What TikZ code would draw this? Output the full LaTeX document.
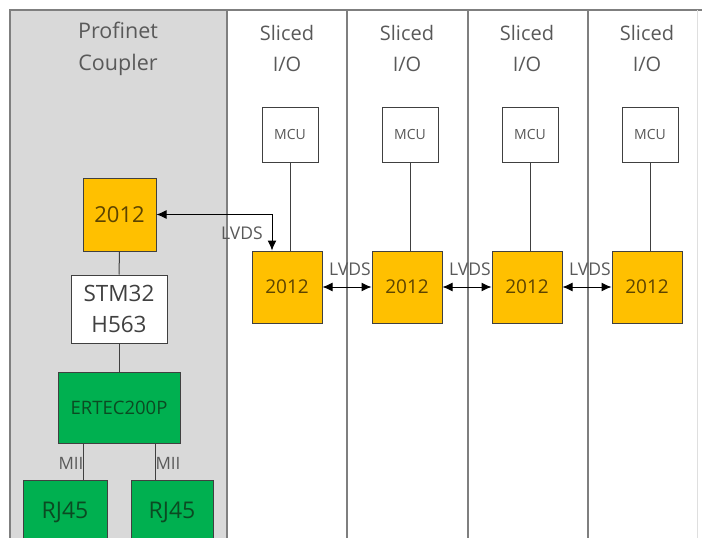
\documentclass[tikz,border=0pt]{standalone}
\usepackage{fontspec}
\setmainfont{Open Sans}
\usetikzlibrary{arrows.meta}
\definecolor{gold}{HTML}{FFC000}
\definecolor{goldtext}{HTML}{5C4300}
\definecolor{grn}{HTML}{00B050}
\definecolor{grntext}{HTML}{0B4A22}
\definecolor{panel}{HTML}{D9D9D9}
\definecolor{frame}{HTML}{7F7F7F}
\definecolor{linec}{HTML}{404040}
\definecolor{txt}{HTML}{595959}
\begin{document}
\begin{tikzpicture}[x=1pt,y=-1pt,
  framel/.style={draw=frame,line width=1.5pt},
  box/.style={draw=linec,line width=1pt,inner sep=0pt,align=center},
  chip/.style={box,fill=gold,text=goldtext,minimum width=70pt,minimum height=72pt,font=\fontsize{19}{22}\selectfont},
  mcubox/.style={box,fill=white,text=txt,minimum width=56pt,minimum height=55pt,font=\fontsize{14}{16}\selectfont},
  gbox/.style={box,fill=grn,text=grntext},
  title/.style={align=center,text=txt,font=\fontsize{20}{31}\selectfont,inner sep=0pt},
  lbl/.style={text=txt,inner sep=0pt,font=\fontsize{17.5}{19}\selectfont},
  conn/.style={draw=linec,line width=1pt},
  biarrow/.style={draw=black,line width=1pt,{Latex[length=10pt,width=9pt]}-{Latex[length=10pt,width=9pt]}}
]
\useasboundingbox (0,0) rectangle (702,538);
% panels
\fill[panel] (10,10) rectangle (227,538);
\draw[framel] (10,538) -- (10,10) -- (702,10);
\draw[framel] (227,10) -- (227,538);
\draw[framel] (347,10) -- (347,538);
\draw[framel] (468,10) -- (468,538);
\draw[framel] (588,10) -- (588,538);
\draw[draw=frame!25,line width=1pt] (697,10) -- (697,538);
% titles
\node[title,font=\fontsize{21.5}{32}\selectfont] (t0) at (118,49) {Profinet\\Coupler};
\node[title] (t1) at (287,48) {Sliced\\I/O};
\node[title] (t2) at (407,48) {Sliced\\I/O};
\node[title] (t3) at (527,48) {Sliced\\I/O};
\node[title] (t4) at (647,48) {Sliced\\I/O};
% coupler
\node[chip,minimum width=73pt,minimum height=73pt,font=\fontsize{22}{24}\selectfont] (c2012) at (119.5,214.5) {2012};
\node[box,fill=white,text=linec,minimum width=96pt,minimum height=68pt,font=\fontsize{22.5}{31}\selectfont] (stm) at (119,309) {STM32\\H563};
\node[gbox,minimum width=122pt,minimum height=71pt,font=\fontsize{18.5}{20}\selectfont] (ertec) at (119,407.5) {ERTEC200P};
\node[gbox,minimum width=84pt,minimum height=64pt,font=\fontsize{23}{25}\selectfont] (rj1) at (65,512) {RJ45};
\node[gbox,minimum width=82pt,minimum height=64pt,font=\fontsize{23}{25}\selectfont] (rj2) at (172,512) {RJ45};
\draw[conn] (c2012.south) -- (stm.north);
\draw[conn] (stm.south) -- (ertec.north);
\coordinate (e1) at ([xshift=-36pt]ertec.south);
\coordinate (e2) at ([xshift=36pt]ertec.south);
\draw[conn] (e1) -- (e1 |- rj1.north);
\draw[conn] (e2) -- (e2 |- rj2.north);
\node[lbl,font=\fontsize{17}{19}\selectfont] (mii1) at (71,463) {MII};
\node[lbl,font=\fontsize{17}{19}\selectfont] (mii2) at (168,463) {MII};
% slices
\foreach \i/\x in {1/287,2/407,3/527,4/647}{
  \node[mcubox] (m\i) at (\x+3,134.5) {MCU};
  \node[chip] (s\i) at (\x,287) {2012};
  \draw[conn] (m\i.south) -- (m\i.south |- s\i.north);
}
\draw[biarrow] (c2012.east) -| ([xshift=-15pt]s1.north);
\node[lbl] (l0) at (242,233) {LVDS};
\draw[biarrow] (s1.east) -- (s2.west);
\draw[biarrow] (s2.east) -- (s3.west);
\draw[biarrow] (s3.east) -- (s4.west);
\node[lbl] (l1) at (350,269) {LVDS};
\node[lbl] (l2) at (470,269) {LVDS};
\node[lbl] (l3) at (590,269) {LVDS};
\end{tikzpicture}
\end{document}
